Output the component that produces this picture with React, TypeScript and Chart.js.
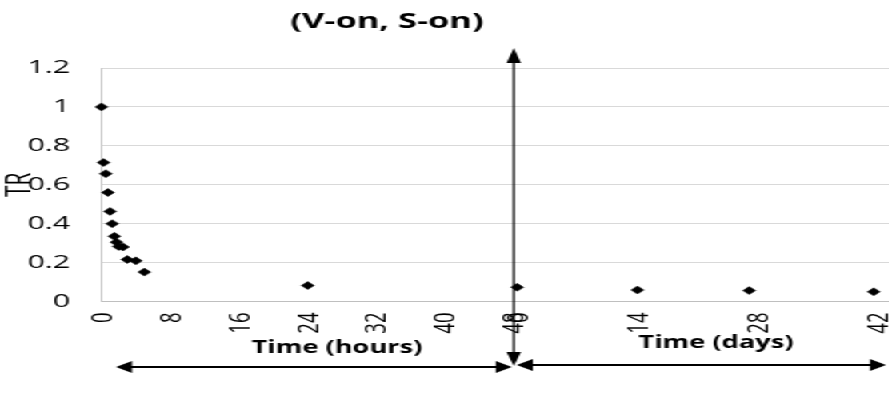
import React, { useEffect, useRef } from 'react';
import { Chart, registerables } from 'chart.js';

Chart.register(...registerables);

// ---- data ----
const HOURS = [0, 0.25, 0.5, 0.75, 1, 1.25, 1.5, 1.75, 2, 2.5, 3, 4, 5, 24];
const TR_HOURS = [1.0, 0.714, 0.657, 0.56, 0.463, 0.4, 0.335, 0.305, 0.283, 0.28, 0.216, 0.209, 0.151, 0.082];
const DAYS = [0, 14, 27, 41.5];
const TR_DAYS = [0.073, 0.059, 0.056, 0.05];
const HOUR_TICKS = [0, 8, 16, 24, 32, 40, 48];
const DAY_TICKS = [0, 14, 28, 42];
const Y_TICKS = [0, 0.2, 0.4, 0.6, 0.8, 1, 1.2];
const TITLE = '(V-on, S-on)';
const Y_TITLE = 'TR';
const X_TITLE_HOURS = 'Time (hours)';
const X_TITLE_DAYS = 'Time (days)';

// ---- layout (not data) ----
const W = 889;
const H = 403;
const S = 1.6; // horizontal stretch of the whole picture
const W0 = W / S;
const DAY_OFFSET = 48.4; // where day 0 sits on the shared axis
const X_MAX = 91.75;
const FONT = '"Open Sans", "DejaVu Sans", sans-serif';

const sx = (v: number) => v / S; // picture x -> canvas x

function head(ctx: CanvasRenderingContext2D, tx: number, ty: number, dx: number, dy: number, len: number, half: number) {
  const bx = tx - dx * len;
  const by = ty - dy * len;
  const px = -dy;
  const py = dx;
  ctx.beginPath();
  ctx.moveTo(tx, ty);
  ctx.lineTo(bx + px * half, by + py * half);
  ctx.lineTo(bx - px * half, by - py * half);
  ctx.closePath();
  ctx.fill();
}

const overlay = {
  id: 'overlay',
  afterDraw(chart: any) {
    const ctx: CanvasRenderingContext2D = chart.ctx;
    const xs = chart.scales.x;
    const xJ = xs.getPixelForValue(48);
    ctx.save();
    ctx.fillStyle = '#000';
    ctx.strokeStyle = '#000';
    ctx.textAlign = 'center';
    ctx.textBaseline = 'middle';
    ctx.font = `bold 21.5px ${FONT}`;
    ctx.fillText(TITLE, sx(387), 21.5);
    ctx.font = `bold 17px ${FONT}`;
    ctx.fillText(X_TITLE_HOURS, sx(337), 348);
    ctx.fillText(X_TITLE_DAYS, sx(716), 343);

    // vertical double arrow
    ctx.lineWidth = 1.3;
    ctx.beginPath();
    ctx.moveTo(xJ, 60);
    ctx.lineTo(xJ, 354);
    ctx.stroke();
    head(ctx, xJ, 48, 0, -1, 15, 4.5);
    head(ctx, xJ, 366, 0, 1, 14, 4.5);

    // horizontal arrows
    ctx.lineWidth = 2;
    const lL = sx(116);
    const lR = xJ - sx(2);
    ctx.beginPath();
    ctx.moveTo(lL + 8, 367);
    ctx.lineTo(lR - 8, 367);
    ctx.stroke();
    head(ctx, lL, 367, -1, 0, 10, 6);
    head(ctx, lR, 367, 1, 0, 10, 6);

    const rL = xJ + sx(3);
    const rR = sx(886);
    ctx.beginPath();
    ctx.moveTo(rL + 8, 365);
    ctx.lineTo(rR - 8, 365);
    ctx.stroke();
    head(ctx, rL, 365, -1, 0, 10, 6);
    head(ctx, rR, 365, 1, 0, 10, 6);
    ctx.restore();
  },
};

export default function App() {
  const ref = useRef<HTMLCanvasElement | null>(null);

  useEffect(() => {
    if (!ref.current) return;
    const tickLabels = [...HOUR_TICKS, ...DAY_TICKS].map(String);
    const tickValues = [...HOUR_TICKS, ...DAY_TICKS.map((d) => DAY_OFFSET + d)];
    const pts = [
      ...HOURS.map((h, i) => ({ x: h, y: TR_HOURS[i] })),
      ...DAYS.map((d, i) => ({ x: DAY_OFFSET + d, y: TR_DAYS[i] })),
    ];
    const chart = new Chart(ref.current, {
      type: 'scatter',
      data: {
        datasets: [
          {
            data: pts,
            pointStyle: 'rectRot',
            pointRadius: 4,
            pointBorderWidth: 0.5,
            backgroundColor: '#000',
            borderColor: '#000',
            clip: false as any,
          },
        ],
      },
      options: {
        animation: false,
        responsive: false,
        devicePixelRatio: 1,
        layout: { autoPadding: false, padding: { top: 68, left: 0, right: 0, bottom: 0 } },
        plugins: { legend: { display: false }, tooltip: { enabled: false }, title: { display: false } },
        scales: {
          x: {
            type: 'linear',
            min: 0,
            max: X_MAX,
            grid: { display: false, drawTicks: false },
            border: { display: true, color: '#bfbfbf', width: 1 },
            afterBuildTicks: (scale: any) => {
              scale.ticks = tickValues.map((v) => ({ value: v }));
            },
            afterFit: (scale: any) => {
              scale.height = H - 301.5;
              scale.paddingLeft = 0;
              scale.paddingRight = 0;
            },
            ticks: {
              autoSkip: false,
              minRotation: 90,
              maxRotation: 90,
              padding: 11,
              labelOffset: 1,
              color: '#000',
              font: { family: FONT, size: 18.5 },
              callback: (_v: any, i: number) => tickLabels[i],
            },
          },
          y: {
            type: 'linear',
            min: 0,
            max: 1.2,
            grid: { color: '#d9d9d9', lineWidth: 1, drawTicks: false },
            border: { display: true, color: '#bfbfbf', width: 1 },
            afterBuildTicks: (scale: any) => {
              scale.ticks = Y_TICKS.map((v) => ({ value: v }));
            },
            afterFit: (scale: any) => {
              scale.width = 101.5 / S;
              scale.paddingTop = 0;
              scale.paddingBottom = 0;
            },
            title: {
              display: true,
              text: Y_TITLE,
              color: '#000',
              font: { family: FONT, size: 21 },
              padding: { top: 0, bottom: 0 },
            },
            ticks: {
              padding: 19.5,
              color: '#000',
              font: { family: FONT, size: 19 },
              callback: (v: any) => String(Math.round(Number(v) * 10) / 10),
            },
          },
        },
      },
      plugins: [overlay],
    });
    return () => chart.destroy();
  }, []);

  return (
    <div
      style={{
        position: 'fixed',
        left: 0,
        top: 0,
        width: W0,
        height: H,
        background: '#fff',
        transform: `scaleX(${S})`,
        transformOrigin: '0 0',
      }}
    >
      <canvas ref={ref} width={Math.round(W0)} height={H} />
    </div>
  );
}
